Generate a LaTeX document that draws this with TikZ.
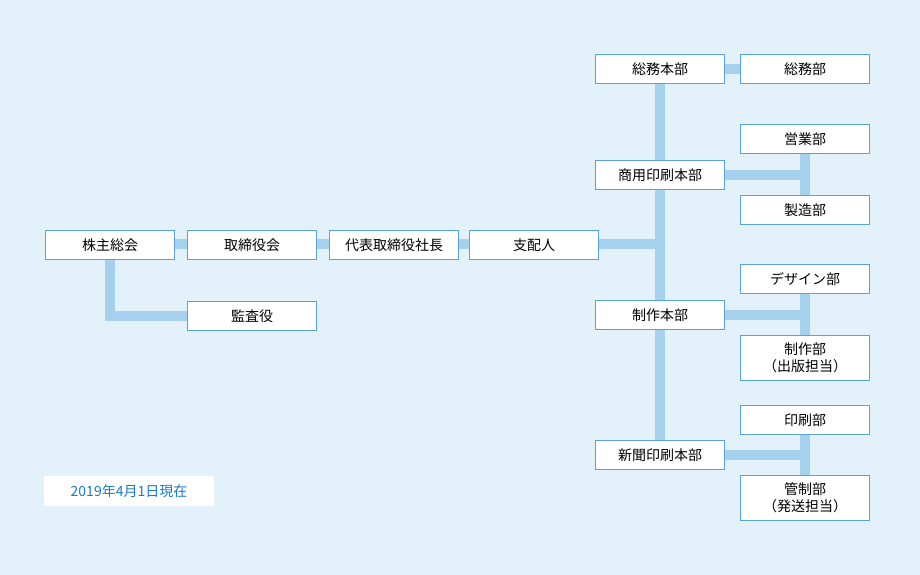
\documentclass[tikz,border=0pt]{standalone}
\usepackage{fontspec}
\setmainfont{Noto Sans CJK JP}
\definecolor{bgblue}{HTML}{E3F1FA}
\definecolor{linkblue}{HTML}{A6D1EE}
\definecolor{edgeblue}{HTML}{5AA3D6}
\definecolor{dateblue}{HTML}{1A7BBF}
\tikzset{
  unit/.style={draw=edgeblue, line width=1pt, fill=white, minimum width=129pt, minimum height=29pt,
    inner sep=0pt, align=center, font=\fontsize{14}{17}\selectfont},
  link/.style={draw=linkblue, line width=10pt},
}
\begin{document}
\begin{tikzpicture}[x=1pt,y=-1pt]
\fill[bgblue] (0,0) rectangle (920,575);
\useasboundingbox (0,0) rectangle (920,575);

% ----------------------------------------------------------
% Connectors (drawn first)
% ----------------------------------------------------------
\coordinate (trunktop) at (660,84);
\coordinate (trunkbot) at (660,440);
\coordinate (trunkmid) at (660,244);
\coordinate (auditbend) at (110,316);
\draw[link] (trunktop) -- (trunkbot);
\draw[link] (110,260) -- (auditbend) -- (187,316);
\draw[link] (45,244) -- (trunkmid);
\draw[link] (725,69) -- (740,69);
\foreach \y/\a/\b in {175/154/195, 315/294/335, 455/435/475} {
  \draw[link] (725,\y) -- (805,\y);
  \draw[link] (805,\a) -- (805,\b);
}

% ----------------------------------------------------------
% Top line
% ----------------------------------------------------------
\node[unit] (holders) at (110,245) {株主総会};
\node[unit] (board) at (252,245) {取締役会};
\node[unit] (president) at (394,245) {代表取締役社長};
\node[unit] (manager) at (534,245) {支配人};
\node[unit] (auditor) at (252,316) {監査役};

% ----------------------------------------------------------
% Divisions
% ----------------------------------------------------------
\node[unit] (general) at (660,69) {総務本部};
\node[unit] (commercial) at (660,175) {商用印刷本部};
\node[unit] (production) at (660,315) {制作本部};
\node[unit] (newspaper) at (660,455) {新聞印刷本部};

% ----------------------------------------------------------
% Departments
% ----------------------------------------------------------
\node[unit] (affairs) at (805,69) {総務部};
\node[unit] (sales) at (805,139) {営業部};
\node[unit] (factory) at (805,210) {製造部};
\node[unit] (design) at (805,279) {デザイン部};
\node[unit, minimum height=45pt] (editorial) at (805,358) {制作部\\（出版担当）};
\node[unit] (printing) at (805,420) {印刷部};
\node[unit, minimum height=45pt] (control) at (805,498) {管制部\\（発送担当）};

% ----------------------------------------------------------
% Date
% ----------------------------------------------------------
\node[fill=white, minimum width=170pt, minimum height=30pt, inner sep=0pt,
  text=dateblue, font=\fontsize{14}{17}\selectfont] (asof) at (129,491) {2019年4月1日現在};

\end{tikzpicture}
\end{document}
